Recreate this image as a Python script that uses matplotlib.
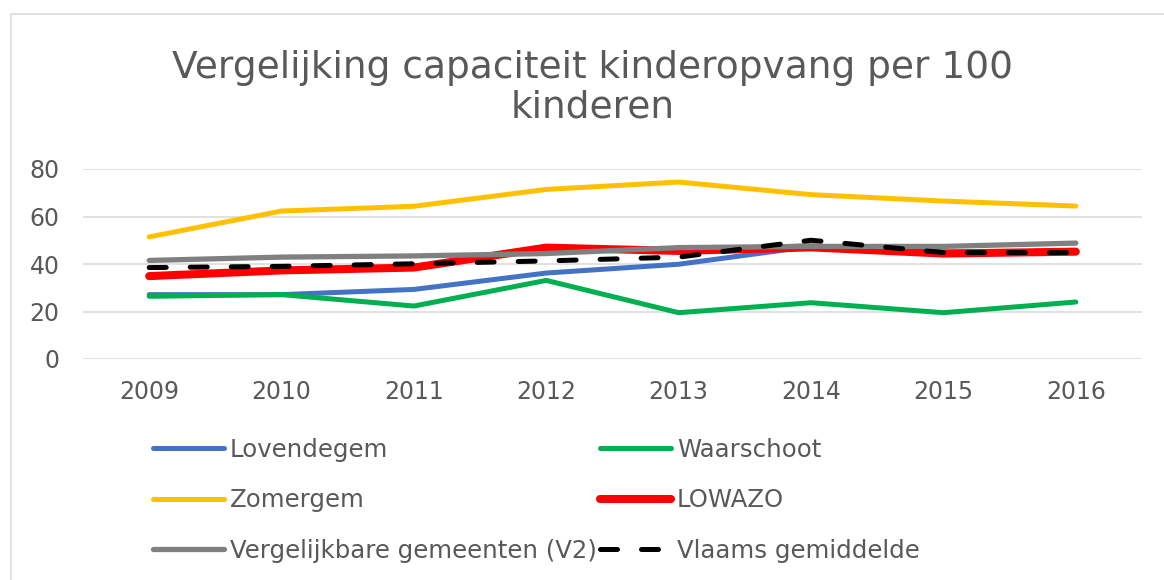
import matplotlib
matplotlib.use("Agg")
import matplotlib.pyplot as plt
from matplotlib.patches import Rectangle

# values
years = ["2009", "2010", "2011", "2012", "2013", "2014", "2015", "2016"]
lovendegem = [27.1, 27.1, 29.3, 36.2, 39.9, 47.4, 45.0, 45.3]
waarschoot = [26.4, 27.1, 22.3, 33.1, 19.5, 23.7, 19.5, 24.0]
zomergem = [51.4, 62.3, 64.3, 71.4, 74.5, 69.2, 66.5, 64.4]
lowazo = [34.9, 37.3, 38.5, 46.9, 45.5, 47.0, 44.4, 45.2]
vergelijkbaar = [41.5, 42.9, 43.4, 44.4, 46.9, 47.4, 47.4, 48.8]
vlaams = [38.5, 39.0, 40.1, 41.3, 42.9, 50.0, 44.8, 44.8]
yticks = [0, 20, 40, 60, 80]

TXT = "#595959"
GRID = "#d9d9d9"
W, H = 1164, 580

fig = plt.figure(figsize=(W / 100, H / 100), dpi=100)
# chart-area border (only left and top edges are visible in the crop)
fig.patches.append(Rectangle((11 / W, -0.1), 1.2, 1 - 14 / H + 0.1, transform=fig.transFigure,
                             fill=False, edgecolor=GRID, lw=1.1))

ax = fig.add_axes([83 / W, 1 - 359 / H, 1059 / W, 190 / H])
x = list(range(len(years)))
series = [
    ("Lovendegem", lovendegem, "#4472c4", 3.6, None),
    ("Waarschoot", waarschoot, "#00b050", 3.6, None),
    ("Zomergem", zomergem, "#ffc000", 3.6, None),
    ("LOWAZO", lowazo, "#ff0000", 5.8, None),
    ("Vergelijkbare gemeenten (V2)", vergelijkbaar, "#808080", 3.8, None),
    ("Vlaams gemiddelde", vlaams, "#000000", 3.6, (3.4, 4.8)),
]
handles = {}
for name, vals, col, lw, dash in series:
    ln, = ax.plot(x, vals, color=col, lw=lw, solid_capstyle="round", solid_joinstyle="round",
                  dash_capstyle="round", zorder=3)
    if dash:
        ln.set_dashes(dash)   # scaled by linewidth (lines.scale_dashes)
    handles[name] = ln

ax.set_xlim(-0.5, len(years) - 0.5)
ax.set_ylim(0, 80)
ax.set_xticks(x, years)
ax.set_yticks(yticks)
ax.grid(axis="y", color=GRID, lw=1.1, zorder=0)
for s in ax.spines.values():
    s.set_visible(False)
ax.tick_params(length=0, labelsize=17, labelcolor=TXT)
ax.tick_params(axis="y", pad=17)
ax.tick_params(axis="x", pad=15)

fig.text(593 / W, 1 - 88 / H, "Vergelijking capaciteit kinderopvang per 100\nkinderen",
         ha="center", va="center", fontsize=27, color=TXT, linespacing=1.13)

order = ["Lovendegem", "Zomergem", "Vergelijkbare gemeenten (V2)",
         "Waarschoot", "LOWAZO", "Vlaams gemiddelde"]
leg = fig.legend([handles[n] for n in order], order, ncol=2, loc="upper left",
                 bbox_to_anchor=(153 / W, 1 - 438 / H), bbox_transform=fig.transFigure,
                 frameon=False, fontsize=17.6, handlelength=2.9, handletextpad=0.25,
                 columnspacing=0.12, labelspacing=1.08, borderaxespad=0, borderpad=0,
                 labelcolor=TXT)

fig.savefig("out.png", dpi=100)
